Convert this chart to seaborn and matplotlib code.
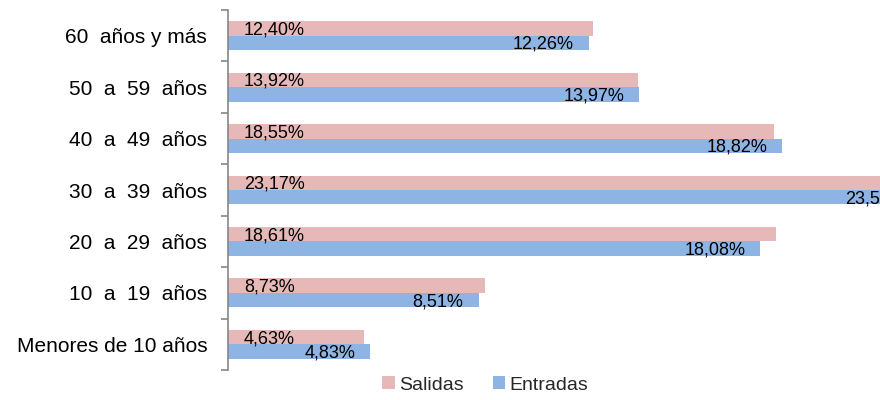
import matplotlib
matplotlib.use("Agg")
import matplotlib.pyplot as plt
import matplotlib.ticker as mticker
import pandas as pd
import seaborn as sns

# Data
grupos = ["60  años y más", "50  a  59  años", "40  a  49  años", "30  a  39  años",
          "20  a  29  años", "10  a  19  años", "Menores de 10 años"]
salidas = [12.40, 13.92, 18.55, 23.17, 18.61, 8.73, 4.63]
entradas = [12.26, 13.97, 18.82, 23.53, 18.08, 8.51, 4.83]
series = ["Salidas", "Entradas"]
colores = ["#E6B9B8", "#8EB4E3"]

df = pd.DataFrame({
    "grupo": grupos * 2,
    "serie": [series[0]] * len(grupos) + [series[1]] * len(grupos),
    "valor": salidas + entradas,
})

sns.set_style("white")
plt.rcParams["font.family"] = ["Liberation Sans", "DejaVu Sans"]

fig = plt.figure(figsize=(8.8, 4.0), dpi=100)
# axes runs past the right edge of the figure, as in the cropped original
ax = fig.add_axes([228 / 880, 0.075, 29.45 * 30 / 880, 0.9])

sns.barplot(data=df, y="grupo", x="valor", hue="serie", order=grupos,
            hue_order=series, palette=colores, orient="h", width=0.56,
            saturation=1, linewidth=0, ax=ax)

ax.set_xlim(0, 30)
ax.set_xlabel("")
ax.set_ylabel("")
ax.get_legend().remove()

# spines and ticks
for s in ["top", "right", "bottom"]:
    ax.spines[s].set_visible(False)
ax.spines["left"].set_color("#868686")
ax.spines["left"].set_linewidth(1.2)
ax.set_xticks([])
ax.tick_params(axis="y", which="major", left=True, length=0, labelsize=15,
               pad=15, labelcolor="black")
ax.yaxis.set_minor_locator(mticker.FixedLocator([i - 0.5 for i in range(len(grupos) + 1)]))
ax.tick_params(axis="y", which="minor", left=True, length=5, width=1.2, color="#868686")

# data labels
for cont, serie in zip(ax.containers, series):
    for p in cont:
        yc = p.get_y() + p.get_height() / 2
        txt = f"{p.get_width():.2f}".replace(".", ",") + "%"
        if serie == "Salidas":
            ax.annotate(txt, xy=(0, yc), xytext=(16, -1.5), textcoords="offset pixels",
                        ha="left", va="center", fontsize=13, color="black",
                        annotation_clip=False)
        else:
            ax.annotate(txt, xy=(p.get_width(), yc), xytext=(-15, -1.5),
                        textcoords="offset pixels", ha="right", va="center",
                        fontsize=13, color="black", annotation_clip=False)

handles, labels = ax.get_legend_handles_labels()
fig.legend(handles, labels, loc="center", bbox_to_anchor=(485 / 880, 1 - 385 / 400),
           ncol=2, frameon=False, fontsize=14, handlelength=0.65, handleheight=0.65,
           handletextpad=0.2, columnspacing=1.5)

fig.savefig("out.png", dpi=100)
